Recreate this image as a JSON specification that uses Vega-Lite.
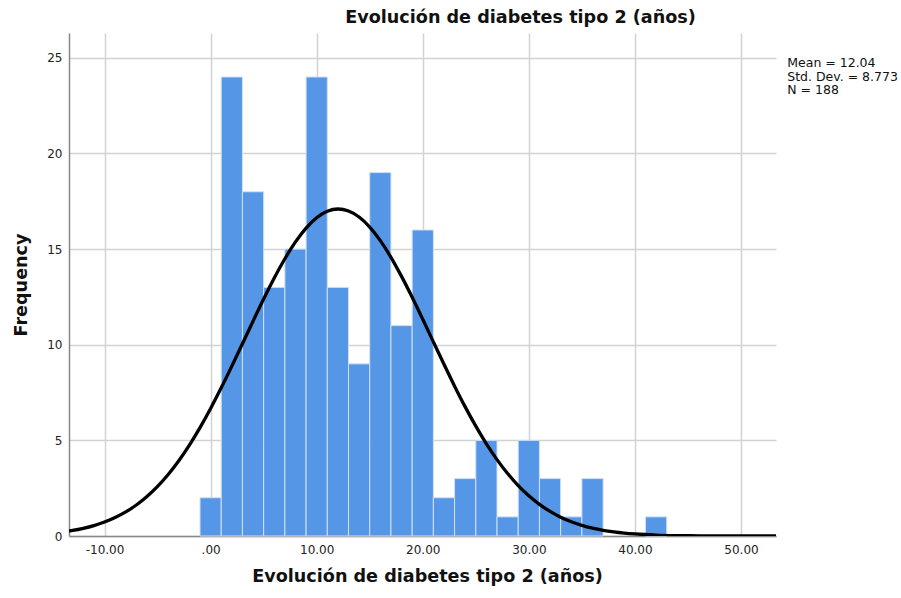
{
  "$schema": "https://vega.github.io/schema/vega-lite/v6.json",
  "width": 707,
  "height": 503,
  "autosize": {"type": "none"},
  "padding": {"left": 69, "top": 33, "right": 125, "bottom": 62},
  "background": "white",
  "config": {
    "view": {"stroke": null},
    "font": "DejaVu Sans"
  },
  "title": {
    "text": "Evolución de diabetes tipo 2 (años)",
    "font": "DejaVu Sans",
    "fontSize": 17.6,
    "fontWeight": "bold",
    "color": "#111111",
    "anchor": "middle",
    "frame": "group",
    "dx": 98,
    "offset": 6
  },
  "datasets": {
    "hist": [
      {"bin_start": -1, "bin_end": 1, "count": 2},
      {"bin_start": 1, "bin_end": 3, "count": 24},
      {"bin_start": 3, "bin_end": 5, "count": 18},
      {"bin_start": 5, "bin_end": 7, "count": 13},
      {"bin_start": 7, "bin_end": 9, "count": 15},
      {"bin_start": 9, "bin_end": 11, "count": 24},
      {"bin_start": 11, "bin_end": 13, "count": 13},
      {"bin_start": 13, "bin_end": 15, "count": 9},
      {"bin_start": 15, "bin_end": 17, "count": 19},
      {"bin_start": 17, "bin_end": 19, "count": 11},
      {"bin_start": 19, "bin_end": 21, "count": 16},
      {"bin_start": 21, "bin_end": 23, "count": 2},
      {"bin_start": 23, "bin_end": 25, "count": 3},
      {"bin_start": 25, "bin_end": 27, "count": 5},
      {"bin_start": 27, "bin_end": 29, "count": 1},
      {"bin_start": 29, "bin_end": 31, "count": 5},
      {"bin_start": 31, "bin_end": 33, "count": 3},
      {"bin_start": 33, "bin_end": 35, "count": 1},
      {"bin_start": 35, "bin_end": 37, "count": 3},
      {"bin_start": 41, "bin_end": 43, "count": 1}
    ],
    "curve": [
      {"x": -13.35, "y": 0.260},
      {"x": -13, "y": 0.291},
      {"x": -12, "y": 0.401},
      {"x": -11, "y": 0.544},
      {"x": -10, "y": 0.729},
      {"x": -9, "y": 0.964},
      {"x": -8, "y": 1.258},
      {"x": -7, "y": 1.622},
      {"x": -6, "y": 2.064},
      {"x": -5, "y": 2.593},
      {"x": -4, "y": 3.214},
      {"x": -3, "y": 3.934},
      {"x": -2, "y": 4.751},
      {"x": -1, "y": 5.665},
      {"x": 0, "y": 6.667},
      {"x": 1, "y": 7.746},
      {"x": 2, "y": 8.883},
      {"x": 3, "y": 10.055},
      {"x": 4, "y": 11.236},
      {"x": 5, "y": 12.391},
      {"x": 6, "y": 13.490},
      {"x": 7, "y": 14.497},
      {"x": 8, "y": 15.378},
      {"x": 9, "y": 16.102},
      {"x": 10, "y": 16.642},
      {"x": 11, "y": 16.978},
      {"x": 12, "y": 17.098},
      {"x": 13, "y": 16.996},
      {"x": 14, "y": 16.677},
      {"x": 15, "y": 16.152},
      {"x": 16, "y": 15.442},
      {"x": 17, "y": 14.573},
      {"x": 18, "y": 13.574},
      {"x": 19, "y": 12.482},
      {"x": 20, "y": 11.329},
      {"x": 21, "y": 10.150},
      {"x": 22, "y": 8.976},
      {"x": 23, "y": 7.835},
      {"x": 24, "y": 6.751},
      {"x": 25, "y": 5.742},
      {"x": 26, "y": 4.821},
      {"x": 27, "y": 3.995},
      {"x": 28, "y": 3.268},
      {"x": 29, "y": 2.639},
      {"x": 30, "y": 2.103},
      {"x": 31, "y": 1.655},
      {"x": 32, "y": 1.285},
      {"x": 33, "y": 0.985},
      {"x": 34, "y": 0.745},
      {"x": 35, "y": 0.557},
      {"x": 36, "y": 0.411},
      {"x": 37, "y": 0.299},
      {"x": 38, "y": 0.215},
      {"x": 39, "y": 0.152},
      {"x": 40, "y": 0.107},
      {"x": 42, "y": 0.050},
      {"x": 44, "y": 0.022},
      {"x": 46, "y": 0.010},
      {"x": 48, "y": 0.004},
      {"x": 50, "y": 0.002},
      {"x": 53.3, "y": 0.000}
    ],
    "stats": [
      {"line1": "Mean = 12.04", "line2": "Std. Dev. = 8.773", "line3": "N = 188"}
    ]
  },
  "layer": [
    {
      "data": {"name": "hist"},
      "mark": {"type": "bar", "color": "#5596E6", "stroke": "#cfe0f7", "strokeWidth": 1},
      "encoding": {
        "x": {
          "field": "bin_start",
          "type": "quantitative",
          "scale": {"domain": [-13.35, 53.3], "nice": false, "zero": false},
          "axis": {
            "values": [-10, 0, 10, 20, 30, 40, 50],
            "labelExpr": "datum.value == 0 ? '.00' : (datum.value < 0 ? '-' + format(-datum.value, '.2f') : format(datum.value, '.2f'))",
            "title": "Evolución de diabetes tipo 2 (años)",
            "titleFont": "DejaVu Sans",
            "titleFontSize": 17.6,
            "titleFontWeight": "bold",
            "titleColor": "#111111",
            "titlePadding": 12,
            "titleX": 358,
            "labelFont": "DejaVu Sans",
            "labelFontSize": 12,
            "labelColor": "#222222",
            "labelPadding": 8,
            "ticks": false,
            "domainColor": "#888888",
            "domainWidth": 1.5,
            "grid": true,
            "gridColor": "#d2d2d2",
            "gridWidth": 1.5
          }
        },
        "x2": {"field": "bin_end"},
        "y": {
          "field": "count",
          "type": "quantitative",
          "scale": {"domain": [0, 26.3], "nice": false},
          "axis": {
            "values": [0, 5, 10, 15, 20, 25],
            "title": "Frequency",
            "titleFont": "DejaVu Sans",
            "titleFontSize": 17.6,
            "titleFontWeight": "bold",
            "titleColor": "#111111",
            "titlePadding": 16,
            "labelFont": "DejaVu Sans",
            "labelFontSize": 12,
            "labelColor": "#222222",
            "labelPadding": 7,
            "ticks": false,
            "domainColor": "#888888",
            "domainWidth": 1.5,
            "grid": true,
            "gridColor": "#d2d2d2",
            "gridWidth": 1.5
          }
        },
        "y2": {"datum": 0}
      }
    },
    {
      "data": {"name": "curve"},
      "mark": {"type": "line", "color": "#000000", "strokeWidth": 3.3, "interpolate": "monotone", "clip": true},
      "encoding": {
        "x": {"field": "x", "type": "quantitative"},
        "y": {"field": "y", "type": "quantitative"}
      }
    },
    {
      "data": {"name": "stats"},
      "mark": {
        "type": "text",
        "align": "left",
        "baseline": "top",
        "font": "DejaVu Sans",
        "fontSize": 12.5,
        "lineHeight": 13.5,
        "color": "#111111"
      },
      "encoding": {
        "text": {"value": ["Mean = 12.04", "Std. Dev. = 8.773", "N = 188"]},
        "x": {"datum": 54.36, "type": "quantitative"},
        "y": {"datum": 25.04, "type": "quantitative"}
      }
    }
  ]
}
